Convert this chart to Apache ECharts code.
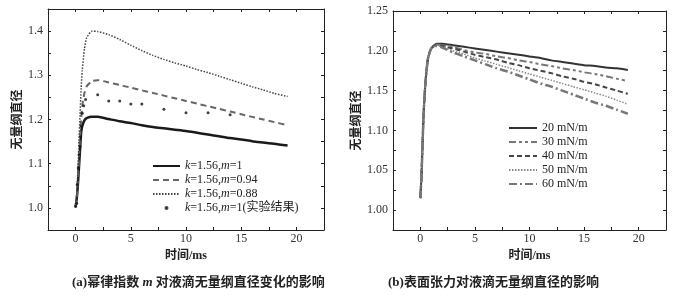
<!DOCTYPE html>
<html>
<head>
<meta charset="utf-8">
<script src="https://cdn.jsdelivr.net/npm/echarts@6/dist/echarts.min.js"></script>
<style>
  html, body { margin: 0; padding: 0; background: #fff; }
  #container { width: 679px; height: 298px; }
</style>
</head>
<body>
<div id="container"></div>
<script>
// (a) 幂律指数 m 的影响
var timeA = [0, 0.1, 0.2, 0.3, 0.4, 0.5, 0.6, 0.8, 1.0, 1.5, 2, 3, 4, 5, 6, 7, 8, 9, 10, 11, 12, 13, 14, 15, 16, 17, 18, 19.2];
var m100 = [1.003, 1.02, 1.05, 1.09, 1.13, 1.17, 1.185, 1.198, 1.203, 1.206, 1.206, 1.201, 1.196, 1.192, 1.187, 1.183, 1.180, 1.177, 1.174, 1.170, 1.166, 1.162, 1.158, 1.155, 1.151, 1.148, 1.145, 1.141];
var m094 = [1.003, 1.02, 1.06, 1.11, 1.16, 1.20, 1.23, 1.26, 1.275, 1.287, 1.289, 1.284, 1.278, 1.272, 1.266, 1.260, 1.254, 1.248, 1.242, 1.236, 1.230, 1.224, 1.218, 1.212, 1.206, 1.200, 1.194, 1.187];
var m088 = [1.003, 1.03, 1.08, 1.15, 1.21, 1.27, 1.31, 1.36, 1.385, 1.400, 1.399, 1.392, 1.381, 1.368, 1.356, 1.345, 1.336, 1.328, 1.321, 1.313, 1.306, 1.298, 1.290, 1.282, 1.274, 1.267, 1.259, 1.252];
var expT = [0, 0.1, 0.15, 0.24, 0.33, 0.4, 0.46, 0.52, 0.6, 0.73, 0.9, 2, 3, 4, 5, 6, 8, 10, 12, 14];
var expY = [1.003, 1.01, 1.053, 1.09, 1.12, 1.139, 1.161, 1.185, 1.214, 1.231, 1.245, 1.256, 1.242, 1.242, 1.235, 1.235, 1.223, 1.215, 1.215, 1.211];

// (b) 表面张力的影响
var timeB = [0, 0.1, 0.2, 0.3, 0.4, 0.5, 0.7, 1.0, 1.5, 2, 3, 4, 5, 6, 7, 8, 9, 10, 11, 12, 13, 14, 15, 16, 17, 18, 19];
var s20 = [1.015, 1.04, 1.08, 1.12, 1.145, 1.165, 1.19, 1.203, 1.209, 1.209, 1.207, 1.205, 1.203, 1.201, 1.199, 1.197, 1.195, 1.193, 1.191, 1.188, 1.186, 1.184, 1.182, 1.181, 1.179, 1.178, 1.176];
var s30 = [1.015, 1.04, 1.08, 1.12, 1.145, 1.165, 1.19, 1.203, 1.208, 1.207, 1.205, 1.201, 1.198, 1.196, 1.193, 1.191, 1.188, 1.186, 1.183, 1.181, 1.178, 1.176, 1.173, 1.171, 1.168, 1.165, 1.162];
var s40 = [1.015, 1.04, 1.08, 1.12, 1.145, 1.165, 1.19, 1.203, 1.207, 1.206, 1.203, 1.199, 1.195, 1.192, 1.189, 1.185, 1.182, 1.178, 1.175, 1.172, 1.168, 1.165, 1.161, 1.158, 1.154, 1.150, 1.146];
var s50 = [1.015, 1.04, 1.08, 1.12, 1.145, 1.165, 1.19, 1.203, 1.207, 1.205, 1.200, 1.196, 1.191, 1.187, 1.183, 1.179, 1.175, 1.171, 1.167, 1.163, 1.159, 1.155, 1.151, 1.147, 1.143, 1.138, 1.133];
var s60 = [1.015, 1.04, 1.08, 1.12, 1.145, 1.165, 1.19, 1.203, 1.206, 1.204, 1.198, 1.193, 1.188, 1.183, 1.178, 1.174, 1.169, 1.164, 1.159, 1.155, 1.150, 1.145, 1.140, 1.135, 1.131, 1.126, 1.121];

var namesA = ['k=1.56,m=1', 'k=1.56,m=0.94', 'k=1.56,m=0.88', 'k=1.56,m=1(实验结果)'];
var namesB = ['20 mN/m', '30 mN/m', '40 mN/m', '50 mN/m', '60 mN/m'];

var xTicks = [0, 5, 10, 15, 20];

var serif = "'Liberation Serif', 'Noto Sans CJK SC', serif";

function pairs(xs, ys) {
    var out = [];
    for (var i = 0; i < xs.length; i++) {
        out.push([xs[i], ys[i]]);
    }
    return out;
}

function onStep(v, step) {
    var r = v / step;
    return Math.abs(r - Math.round(r)) < 1e-6;
}

// legend entries: lines get no marker, the dots keep theirs
function legendItems(names, dotName) {
    return names.map(function (n) {
        return n == dotName ? {name: n, icon: 'circle'} : {name: n, itemStyle: {opacity: 0}};
    });
}

function xAxisOf(grid, pos) {
    var bottom = pos == 'bottom';
    return {
        type: 'value',
        gridIndex: grid,
        position: pos,
        min: -2.5,
        max: 22.5,
        interval: 2.5,
        name: bottom ? '时间/ms' : '',
        nameLocation: 'middle',
        nameGap: 19,
        nameTextStyle: {color: '#222', fontSize: 12, fontFamily: serif, fontWeight: 'bold'},
        axisLine: {onZero: false, lineStyle: {color: '#222', width: 1}},
        axisTick: {inside: true, length: 3, lineStyle: {color: '#222'}},
        axisLabel: {
            show: bottom,
            margin: 3,
            color: '#333',
            fontSize: 12,
            fontFamily: serif,
            formatter: function (v) {
                return xTicks.indexOf(v) >= 0 ? String(v) : '';
            }
        },
        splitLine: {show: false}
    };
}

function yAxisOf(grid, pos, min, max, step, labelStep, digits, gap) {
    var left = pos == 'left';
    return {
        type: 'value',
        gridIndex: grid,
        position: pos,
        min: min,
        max: max,
        interval: step,
        name: left ? '无量纲直径' : '',
        nameLocation: 'middle',
        nameGap: gap,
        nameTextStyle: {color: '#222', fontSize: 12, fontFamily: serif, fontWeight: 'bold'},
        axisLine: {onZero: false, lineStyle: {color: '#222', width: 1}},
        axisTick: {inside: true, length: 3, lineStyle: {color: '#222'}},
        axisLabel: {
            show: left,
            margin: 5,
            color: '#333',
            fontSize: 12,
            fontFamily: serif,
            formatter: function (v) {
                return onStep(v, labelStep) ? v.toFixed(digits) : '';
            }
        },
        splitLine: {show: false}
    };
}

function lineOf(name, xi, yi, xs, ys, color, width, dash) {
    return {
        name: name,
        type: 'line',
        xAxisIndex: xi,
        yAxisIndex: yi,
        data: pairs(xs, ys),
        symbol: 'none',
        smooth: 0.2,
        lineStyle: {color: color, width: width, type: dash},
        itemStyle: {color: color},
        z: 3
    };
}

var myChart = echarts.init(document.getElementById('container'));
var legendText = {color: '#222', fontSize: 12, fontFamily: serif, lineHeight: 12};

var option = {
    animation: false,
    backgroundColor: '#fff',
    grid: [
        {left: 48, top: 9, width: 276, height: 221},
        {left: 393, top: 11, width: 273, height: 219}
    ],
    xAxis: [
        xAxisOf(0, 'bottom'),
        xAxisOf(0, 'top'),
        xAxisOf(1, 'bottom'),
        xAxisOf(1, 'top')
    ],
    yAxis: [
        yAxisOf(0, 'left', 0.95, 1.45, 0.05, 0.1, 1, 23),
        yAxisOf(0, 'right', 0.95, 1.45, 0.05, 0.1, 1, 23),
        yAxisOf(1, 'left', 0.975, 1.25, 0.025, 0.05, 2, 30),
        yAxisOf(1, 'right', 0.975, 1.25, 0.025, 0.05, 2, 30)
    ],
    legend: [
        {
            data: legendItems(namesA, namesA[3]),
            orient: 'vertical',
            left: 147,
            top: 155,
            itemWidth: 27,
            itemHeight: 4,
            itemGap: 2,
            textStyle: {
                color: '#222', fontSize: 12, fontFamily: serif, lineHeight: 12,
                rich: {i: {fontStyle: 'italic', fontSize: 12, fontFamily: serif, color: '#222'}}
            },
            formatter: function (name) {
                return name.replace('k=', '{i|k}=').replace(',m=', ',{i|m}=');
            }
        },
        {
            data: legendItems(namesB, ''),
            orient: 'vertical',
            left: 503,
            top: 117,
            itemWidth: 28,
            itemHeight: 4,
            itemGap: 2,
            textStyle: legendText
        }
    ],
    graphic: [
        {
            type: 'text', left: 72, top: 276,
            style: {
                text: '(a)幂律指数 {i|m} 对液滴无量纲直径变化的影响',
                fill: '#222', font: 'bold 13px ' + serif,
                rich: {i: {fontStyle: 'italic', fontWeight: 'bold', fontSize: 13, fontFamily: serif, fill: '#222'}}
            }
        },
        {
            type: 'text', left: 388, top: 276,
            style: {text: '(b)表面张力对液滴无量纲直径的影响', fill: '#222', font: 'bold 13px ' + serif}
        }
    ],
    series: [
        lineOf(namesA[0], 0, 0, timeA, m100, '#1a1a1a', 2.5, 'solid'),
        lineOf(namesA[1], 0, 0, timeA, m094, '#666', 2, [6, 4]),
        lineOf(namesA[2], 0, 0, timeA, m088, '#444', 1.5, [1.5, 1.5]),
        {
            name: namesA[3],
            type: 'scatter',
            xAxisIndex: 0,
            yAxisIndex: 0,
            data: pairs(expT, expY),
            symbol: 'circle',
            symbolSize: 3,
            itemStyle: {color: '#111'},
            z: 4
        },
        lineOf(namesB[0], 2, 2, timeB, s20, '#333', 2, 'solid'),
        lineOf(namesB[1], 2, 2, timeB, s30, '#777', 2, [7, 3, 3, 3, 3, 3]),
        lineOf(namesB[2], 2, 2, timeB, s40, '#444', 2, [5, 3]),
        lineOf(namesB[3], 2, 2, timeB, s50, '#888', 1.5, [1.5, 1.5]),
        lineOf(namesB[4], 2, 2, timeB, s60, '#777', 2.5, [8, 3, 2, 3])
    ]
};
myChart.setOption(option);
</script>
</body>
</html>
